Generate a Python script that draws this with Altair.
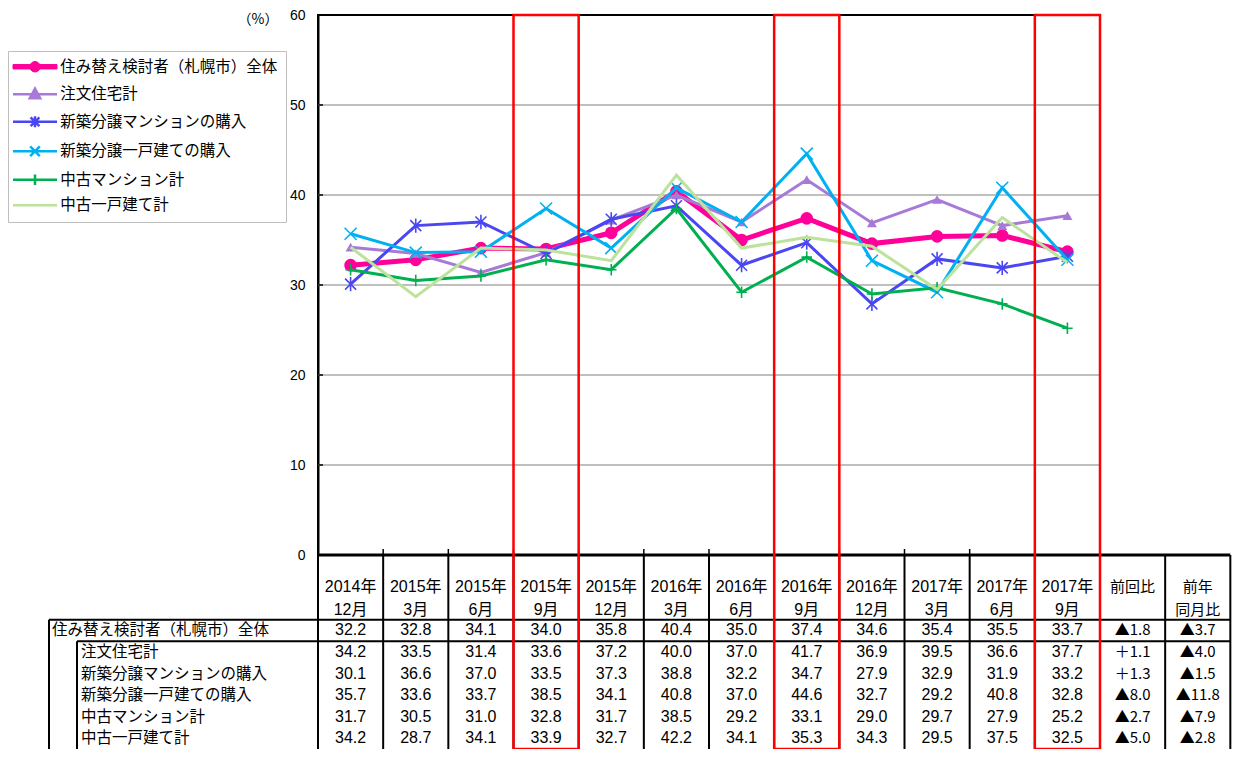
import math
import altair as alt
import pandas as pd

# ---------------- data ----------------
periods_year = ["2014年", "2015年", "2015年", "2015年", "2015年", "2016年",
                "2016年", "2016年", "2016年", "2017年", "2017年", "2017年"]
periods_month = ["12月", "3月", "6月", "9月", "12月", "3月",
                 "6月", "9月", "12月", "3月", "6月", "9月"]
periods = [y + m for y, m in zip(periods_year, periods_month)]
extra_cols = ["前回比", "前年同月比"]
extra_headers = ["前回比", "前年\n同月比"]
highlight = ["2015年9月", "2016年9月", "2017年9月"]

series = ["住み替え検討者（札幌市）全体", "注文住宅計", "新築分譲マンションの購入",
          "新築分譲一戸建ての購入", "中古マンション計", "中古一戸建て計"]

v_all = [32.2, 32.8, 34.1, 34.0, 35.8, 40.4, 35.0, 37.4, 34.6, 35.4, 35.5, 33.7]
v_order = [34.2, 33.5, 31.4, 33.6, 37.2, 40.0, 37.0, 41.7, 36.9, 39.5, 36.6, 37.7]
v_new_mansion = [30.1, 36.6, 37.0, 33.5, 37.3, 38.8, 32.2, 34.7, 27.9, 32.9, 31.9, 33.2]
v_new_house = [35.7, 33.6, 33.7, 38.5, 34.1, 40.8, 37.0, 44.6, 32.7, 29.2, 40.8, 32.8]
v_used_mansion = [31.7, 30.5, 31.0, 32.8, 31.7, 38.5, 29.2, 33.1, 29.0, 29.7, 27.9, 25.2]
v_used_house = [34.2, 28.7, 34.1, 33.9, 32.7, 42.2, 34.1, 35.3, 34.3, 29.5, 37.5, 32.5]
values = [v_all, v_order, v_new_mansion, v_new_house, v_used_mansion, v_used_house]

chg_prev = ["▲1.8", "＋1.1", "＋1.3", "▲8.0", "▲2.7", "▲5.0"]
chg_year = ["▲3.7", "▲4.0", "▲1.5", "▲11.8", "▲7.9", "▲2.8"]

y_ticks = [0, 10, 20, 30, 40, 50, 60]

# ---------------- styles ----------------
colors = ["#FF0099", "#A77AD8", "#4A46F2", "#00B0F0", "#00B050", "#BCE29C"]
line_widths = [5, 3, 3, 3, 3, 3]
legend_widths = [1, 2.5, 2.5, 2.5, 2.5, 2.5]
markers = [
    dict(shape="circle", filled=True, size=160, strokeWidth=0),
    dict(shape="triangle-up", filled=True, size=100, strokeWidth=0),
    dict(shape="M-1,-1L1,1M-1,1L1,-1M0,-1.3V1.3", filled=False, size=121, strokeWidth=1.6),
    dict(shape="M-1,-1L1,1M-1,1L1,-1", filled=False, size=144, strokeWidth=1.6),
    dict(shape="M-1,0H1M0,-1.1V1.1", filled=False, size=110, strokeWidth=1.6),
    None,
]
LINE = "M-5.5,0H5.5"
THICK = "M-5.5,-0.55H5.5V0.55H-5.5Z"
circ = "M" + "L".join(f"{1.3 * math.cos(2 * math.pi * k / 20):.3f},{1.3 * math.sin(2 * math.pi * k / 20):.3f}"
                      for k in range(20)) + "Z"
legend_paths = [
    THICK + circ,
    LINE + "M0,-1.4L1.3,1L-1.3,1Z",
    LINE + "M-1.1,-1.1L1.1,1.1M-1.1,1.1L1.1,-1.1M0,-1.4V1.4",
    LINE + "M-1.2,-1.2L1.2,1.2M-1.2,1.2L1.2,-1.2",
    LINE + "M-1.3,0H1.3M0,-1.3V1.3",
    LINE,
]

CJK = "Noto Sans CJK JP"
NUM = "Liberation Sans, Noto Sans CJK JP"

# ---------------- layout ----------------
W = 782
H = 540
TH = 194
col_w = W / 12
TW = col_w * 14
TOP = 7
PAD = {"left": 310, "top": TOP, "right": 1224 - 310 - W, "bottom": 741 - TOP - H}

all_cols = periods + extra_cols
xscale = alt.Scale(type="band", domain=all_cols, range=[0, TW], paddingInner=0, paddingOuter=0)
tscale = alt.Scale(domain=[0, 9], range=[H, H + TH], nice=False, zero=False)
yscale = alt.Scale(domain=[0, 60], nice=False, zero=True)


def X(field="col", bp=0.5):
    return alt.X(f"{field}:N", scale=xscale, axis=None, bandPosition=bp)


def TY(f="ty"):
    return alt.Y(f"{f}:Q", scale=tscale, axis=None)


def VY(f="value", axis=None):
    return alt.Y(f"{f}:Q", scale=yscale, axis=axis)


# ---------------- plot ----------------
rows = []
for s, vals in zip(series, values):
    for p, v in zip(periods, vals):
        rows.append({"col": p, "series": s, "value": v})
df = pd.DataFrame(rows)

yaxis = alt.Axis(orient="left", values=y_ticks, grid=False,
                 domain=True, domainColor="black", domainWidth=2, ticks=False,
                 labelPadding=13, labelFont="Liberation Sans", labelFontSize=14,
                 labelColor="black", title="（%）", titleAngle=0, titleX=-40, titleY=4,
                 titleAlign="right", titleBaseline="middle", titleFontWeight="normal",
                 titleFontSize=14, titleFont=CJK, titleColor="black")

grid_df = pd.DataFrame({"value": y_ticks[1:-1]})
grid = alt.Chart(grid_df).mark_rule(color="#BFBFBF", strokeWidth=1.8).encode(
    y=VY(axis=yaxis), x=alt.value(0), x2=alt.value(W))
inner_ticks = alt.Chart(pd.DataFrame({"value": y_ticks})).mark_rule(color="black", strokeWidth=1.5).encode(
    y=VY(), x=alt.value(0), x2=alt.value(5))

series_layers = []
for i, s in enumerate(series):
    sdf = df[df.series == s]
    series_layers.append(
        alt.Chart(sdf).mark_line(color=colors[i], strokeWidth=line_widths[i], strokeJoin="miter")
        .encode(x=X(), y=VY())
    )
    m = markers[i]
    if m is None:
        continue
    if m["filled"]:
        mk = alt.Chart(sdf).mark_point(shape=m["shape"], filled=True, size=m["size"],
                                       color=colors[i], opacity=1)
    else:
        mk = alt.Chart(sdf).mark_point(shape=m["shape"], filled=False, size=m["size"],
                                       color=colors[i], strokeWidth=m["strokeWidth"], opacity=1)
    series_layers.append(mk.encode(x=X(), y=VY()))

# ---------------- table ----------------
cells = []
for j in range(12):
    cells.append({"col": periods[j], "ty": 1.5, "text": periods_year[j] + "\n" + periods_month[j]})
for i in range(len(series)):
    for j in range(12):
        cells.append({"col": periods[j], "ty": 3.5 + i, "text": f"{values[i][j]:.1f}"})
cells_df = pd.DataFrame(cells)

extra = []
for k in range(2):
    extra.append({"col": extra_cols[k], "ty": 1.5, "text": extra_headers[k]})
for i in range(len(series)):
    extra.append({"col": extra_cols[0], "ty": 3.5 + i, "text": chg_prev[i]})
    extra.append({"col": extra_cols[1], "ty": 3.5 + i, "text": chg_year[i]})
extra_df = pd.DataFrame(extra)

table_text = alt.Chart(cells_df).mark_text(
    font=NUM, fontSize=16, color="black", lineBreak="\n", lineHeight=23,
    baseline="middle", align="center"
).encode(x=X(), y=TY(), text="text:N")

extra_text = alt.Chart(extra_df).mark_text(
    font=CJK, fontSize=15, color="black", lineBreak="\n", lineHeight=23,
    baseline="middle", align="center"
).encode(x=X(), y=TY(), text="text:N")

labels_df = pd.DataFrame({"label": series, "ty": [3.5 + i for i in range(len(series))],
                          "level": [0] + [1] * (len(series) - 1)})
label_main = alt.Chart(labels_df[labels_df.level == 0]).mark_text(
    font=CJK, fontSize=15.5, color="black", align="left", baseline="middle"
).encode(x=alt.value(-266), y=TY(), text="label:N")
label_sub = alt.Chart(labels_df[labels_df.level == 1]).mark_text(
    font=CJK, fontSize=15.5, color="black", align="left", baseline="middle"
).encode(x=alt.value(-237), y=TY(), text="label:N")

vl_df = pd.DataFrame({"col": all_cols, "y0": 0, "y1": 9})
vlines = alt.Chart(vl_df).mark_rule(color="black", strokeWidth=2).encode(
    x=X(bp=0), y=TY("y0"), y2="y1:Q")
vlast = alt.Chart(vl_df.tail(1)).mark_rule(color="black", strokeWidth=2).encode(
    x=X(bp=1), y=TY("y0"), y2="y1:Q")

h0 = alt.Chart(pd.DataFrame({"y": [0]})).mark_rule(color="black", strokeWidth=3).encode(
    y=TY("y"), x=alt.value(0), x2=alt.value(TW))
h3 = alt.Chart(pd.DataFrame({"y": [3]})).mark_rule(color="black", strokeWidth=2).encode(
    y=TY("y"), x=alt.value(-269), x2=alt.value(TW))
h4 = alt.Chart(pd.DataFrame({"y": [4]})).mark_rule(color="black", strokeWidth=2).encode(
    y=TY("y"), x=alt.value(-241), x2=alt.value(TW))
v_main = alt.Chart(pd.DataFrame({"y0": [3], "y1": [9]})).mark_rule(color="black", strokeWidth=2).encode(
    y=TY("y0"), y2="y1:Q", x=alt.value(-269))
v_sub = alt.Chart(pd.DataFrame({"y0": [4], "y1": [9]})).mark_rule(color="black", strokeWidth=2).encode(
    y=TY("y0"), y2="y1:Q", x=alt.value(-241))

ticks_df = pd.DataFrame({"col": periods[1:]})
xticks = alt.Chart(ticks_df).mark_rule(color="black", strokeWidth=1.5).encode(
    x=X(bp=0), y=alt.value(H - 6), y2=alt.value(H))

# ---------------- highlight boxes ----------------
boxes = alt.Chart(pd.DataFrame({"col": highlight})).mark_rect(
    fillOpacity=0, stroke="#FF0000", strokeWidth=2.5
).encode(x=X(bp=0), y=alt.value(0), y2=alt.value(H + TH))

# ---------------- legend ----------------
leg = alt.Legend(title=None, orient="none", legendX=-310, legendY=36,
                 symbolSize=64, symbolOffset=11.25, labelOffset=17.5,
                 rowPadding=7.5, padding=8, strokeColor="#BFBFBF", fillColor="white",
                 labelFont=CJK, labelFontSize=15.5, labelColor="black", labelLimit=400,
                 symbolOpacity=1)
legend_layer = alt.Chart(pd.DataFrame({"series": series})).mark_point(opacity=0).encode(
    shape=alt.Shape("series:N", scale=alt.Scale(domain=series, range=legend_paths), legend=leg),
    fill=alt.Fill("series:N", scale=alt.Scale(domain=series, range=colors), legend=leg),
    stroke=alt.Stroke("series:N", scale=alt.Scale(domain=series, range=colors), legend=leg),
    strokeWidth=alt.StrokeWidth("series:N", scale=alt.Scale(type="ordinal", domain=series, range=legend_widths), legend=leg),
)

chart = alt.layer(
    grid, inner_ticks, *series_layers,
    vlines, vlast, h0, h3, h4, v_main, v_sub, xticks,
    table_text, extra_text, label_main, label_sub,
    boxes, legend_layer,
).resolve_scale(
    y="independent"
).properties(
    width=W, height=H,
    autosize=alt.AutoSizeParams(type="none"),
    padding=PAD,
    background="white",
).configure_view(stroke="black", strokeWidth=2)

chart.save("out.html", embed_options={"renderer": "svg", "actions": False})
